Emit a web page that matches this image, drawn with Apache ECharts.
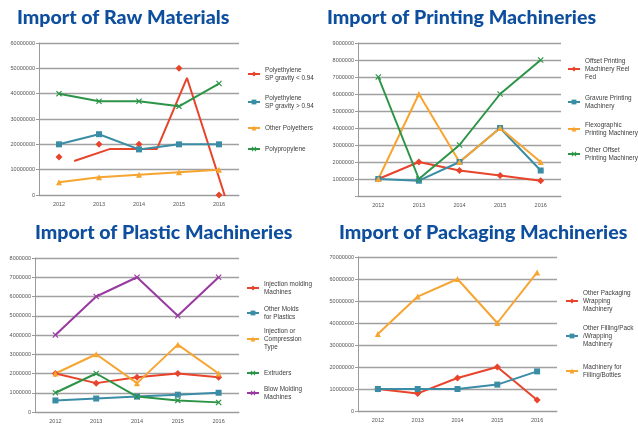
<!DOCTYPE html>
<html><head><meta charset="utf-8">
<script src="https://cdn.jsdelivr.net/npm/echarts@6/dist/echarts.min.js"></script>
<style>html,body{margin:0;padding:0;background:#fff}#c{width:638px;height:434px}</style>
</head><body><div id="c"></div>
<script>
// ---- data ----
const years = ['2012','2013','2014','2015','2016'];

const rawNames = ['Polyethylene\nSP gravity < 0.94','Polyethylene\nSP gravity > 0.94','Other Polyethers','Polypropylene'];
const rawPElow = [15000000, 20000000, 20000000, 50000000, 0];
const rawPEhigh = [20000000, 24000000, 18000000, 20000000, 20000000];
const rawPolyethers = [5000000, 7000000, 8000000, 9000000, 10000000];
const rawPolypropylene = [40000000, 37000000, 37000000, 35000000, 44000000];
// the drawn red line in the source is offset from its markers
const rawPElowLineX = [2012.38, 2013.28, 2014.45, 2015.2, 2016.2];
const rawPElowLineY = [13400000, 18200000, 18200000, 46200000, -3000000];

const printNames = ['Offset Printing\nMachinery Reel\nFed','Gravure Printing\nMachinery','Flexographic\nPrinting Machinery','Other Offset\nPrinting Machinery'];
const printOffsetReel = [1000000, 2000000, 1500000, 1200000, 900000];
const printGravure = [1000000, 900000, 2000000, 4000000, 1500000];
const printFlexo = [1000000, 6000000, 2000000, 4000000, 2000000];
const printOtherOffset = [7000000, 1000000, 3000000, 6000000, 8000000];

const plasticNames = ['Injection molding\nMachines','Other Molds\nfor Plastics','Injection or\nCompression\nType','Extruders','Blow Molding\nMachines'];
const plasticInjection = [2000000, 1500000, 1800000, 2000000, 1800000];
const plasticMolds = [600000, 700000, 800000, 900000, 1000000];
const plasticCompression = [2000000, 3000000, 1500000, 3500000, 2000000];
const plasticExtruders = [1000000, 2000000, 800000, 600000, 500000];
const plasticBlow = [4000000, 6000000, 7000000, 5000000, 7000000];

const packNames = ['Other Packaging\nWrapping\nMachinery','Other Filling/Pack\n/Wrapping\nMachinery','Machinery for\nFilling/Bottles'];
const packWrapping = [10000000, 8000000, 15000000, 20000000, 5000000];
const packFilling = [10000000, 10000000, 10000000, 12000000, 18000000];
const packBottles = [35000000, 52000000, 60000000, 40000000, 63000000];

const titles = ['Import of Raw Materials','Import of Printing Machineries','Import of Plastic Machineries','Import of Packaging Machineries'];

// ---- style ----
const RED='#e8442b', TEAL='#3b8ca5', ORANGE='#f7a531', GREEN='#2c9447', PURPLE='#983aa0';
const XSYM='path://M0,1.4L1.4,0L5,3.6L8.6,0L10,1.4L6.4,5L10,8.6L8.6,10L5,6.4L1.4,10L0,8.6L3.6,5Z';
const SYM = {diamond:'diamond', square:'rect', tri:'triangle', x:XSYM};

const grids = [
  {left:39, top:43, width:200, height:152},
  {left:358, top:43, width:203, height:153},
  {left:35, top:258, width:204, height:154},
  {left:358, top:257, width:199, height:154}
];
const yMax = [60000000, 9000000, 8000000, 70000000];
const yInt = [10000000, 1000000, 1000000, 10000000];

const option = {
  backgroundColor:'#fff',
  animation:false,
  title: [
    {text:titles[0], left:17, top:8},
    {text:titles[1], left:327, top:8},
    {text:titles[2], left:35, top:223},
    {text:titles[3], left:339, top:223}
  ].map(t=>Object.assign(t,{padding:0,textStyle:{fontFamily:'Lato',fontWeight:900,fontSize:19.6,color:'#0d4e9e'}})),
  grid: grids,
  xAxis: grids.map((g,i)=>({
    type:'category', gridIndex:i, data:years, boundaryGap:true,
    axisLine:{show:true,lineStyle:{color:'#9a9a9a',width:1}},
    axisTick:{show:false},
    axisLabel:{fontSize:5.5,color:'#555',margin:6,fontFamily:'Liberation Sans'},
    splitLine:{show:false}
  })).concat([{type:'value', gridIndex:0, min:2011.5, max:2016.5, show:false}]),
  yAxis: grids.map((g,i)=>({
    type:'value', gridIndex:i, min:0, max:yMax[i], interval:yInt[i],
    axisLine:{show:true,lineStyle:{color:'#9a9a9a',width:1}},
    axisTick:{show:true,length:3,lineStyle:{color:'#9a9a9a'}},
    axisLabel:{fontSize:5.5,color:'#555',margin:4,fontFamily:'Liberation Sans',
      formatter: v => (i===1 && v===0) ? '' : String(v)},
    splitLine:{show:true,lineStyle:{color:'#a0a0a0',width:1.4}}
  })),
  legend: [],
  series: []
};

function addSeries(gi, name, data, color, sym, extra){
  option.series.push(Object.assign({
    type:'line', name:name, xAxisIndex:gi, yAxisIndex:gi, data:data,
    symbol:SYM[sym], symbolSize: sym==='x'?6:(sym==='diamond'?7:6), showSymbol:true,
    lineStyle:{color:color,width:2}, itemStyle:{color:color}, z:3
  }, extra||{}));
}
function addLegend(name, color, sym, left, iconY){
  const n = name.split('\n').length;
  option.legend.push({
    data:[{name:name, lineStyle:{color:color,width:2,opacity:1}, itemStyle:{color:color,opacity:1}}],
    left:left, top: iconY - (2*n-1)*4, padding:0, itemWidth:12, itemHeight:6, itemGap:0,
    selectedMode:false,
    textStyle:{fontSize:6.4,lineHeight:8,color:'#3c3c3c',fontFamily:'Liberation Sans',padding:[(n-1)*8,0,0,0]}
  });
}

// Panel 1
addSeries(0, rawNames[0], rawPElow, RED, 'diamond', {lineStyle:{color:RED,width:2,opacity:0}});
option.series.push({type:'line', name:'PE low line', xAxisIndex:4, yAxisIndex:0,
  data: rawPElowLineX.map((x,k)=>[x, rawPElowLineY[k]]), symbol:'none', clip:true,
  lineStyle:{color:RED,width:2}, z:3});
addSeries(0, rawNames[1], rawPEhigh, TEAL, 'square');
addSeries(0, rawNames[2], rawPolyethers, ORANGE, 'tri');
addSeries(0, rawNames[3], rawPolypropylene, GREEN, 'x');
addLegend(rawNames[0], RED, 'diamond', 247, 74);
addLegend(rawNames[1], TEAL, 'square', 247, 102);
addLegend(rawNames[2], ORANGE, 'tri', 247, 128);
addLegend(rawNames[3], GREEN, 'x', 247, 149);

// Panel 2
addSeries(1, printNames[0], printOffsetReel, RED, 'diamond');
addSeries(1, printNames[1], printGravure, TEAL, 'square');
addSeries(1, printNames[2], printFlexo, ORANGE, 'tri');
addSeries(1, printNames[3], printOtherOffset, GREEN, 'x');
addLegend(printNames[0], RED, 'diamond', 567, 69);
addLegend(printNames[1], TEAL, 'square', 567, 102);
addLegend(printNames[2], ORANGE, 'tri', 567, 129);
addLegend(printNames[3], GREEN, 'x', 567, 154);

// Panel 3
addSeries(2, plasticNames[0], plasticInjection, RED, 'diamond');
addSeries(2, plasticNames[1], plasticMolds, TEAL, 'square');
addSeries(2, plasticNames[2], plasticCompression, ORANGE, 'tri');
addSeries(2, plasticNames[3], plasticExtruders, GREEN, 'x');
addSeries(2, plasticNames[4], plasticBlow, PURPLE, 'x');
addLegend(plasticNames[0], RED, 'diamond', 246, 288);
addLegend(plasticNames[1], TEAL, 'square', 246, 313);
addLegend(plasticNames[2], ORANGE, 'tri', 246, 339);
addLegend(plasticNames[3], GREEN, 'x', 246, 373);
addLegend(plasticNames[4], PURPLE, 'x', 246, 393);

// Panel 4
addSeries(3, packNames[0], packWrapping, RED, 'diamond');
addSeries(3, packNames[1], packFilling, TEAL, 'square');
addSeries(3, packNames[2], packBottles, ORANGE, 'tri');
addLegend(packNames[0], RED, 'diamond', 565, 301);
addLegend(packNames[1], TEAL, 'square', 565, 336);
addLegend(packNames[2], ORANGE, 'tri', 565, 371);

const chart = echarts.init(document.getElementById('c'), null, {renderer:'canvas'});
chart.setOption(option);
</script>
</body></html>
